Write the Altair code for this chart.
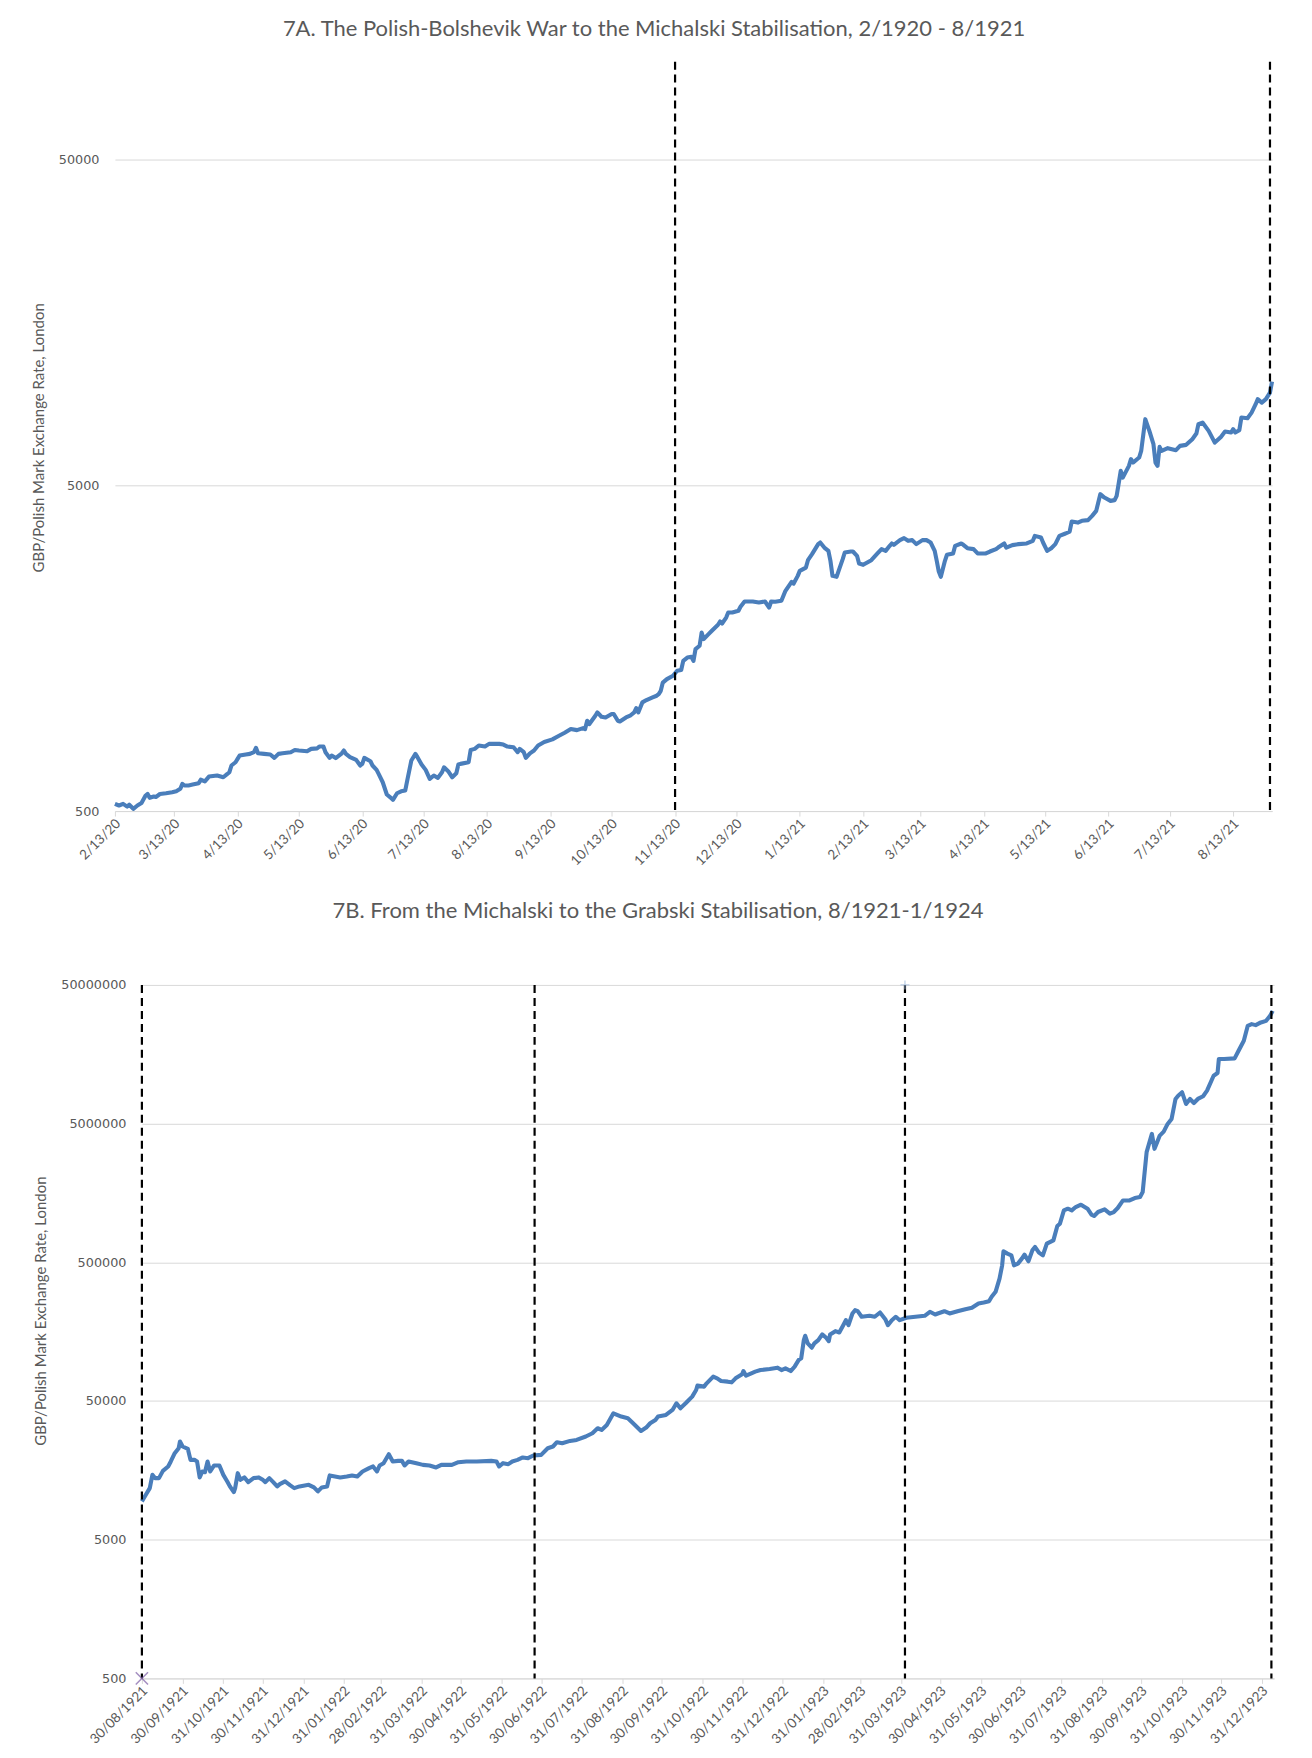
import altair as alt
import pandas as pd

# ---------------- 7A : 2/1920 - 8/1921 ----------------
top_dates = [
    "1920-02-13", "1920-02-15", "1920-02-17", "1920-02-19", "1920-02-20", "1920-02-22", "1920-02-24",
    "1920-02-26", "1920-02-28", "1920-02-29", "1920-03-01", "1920-03-03", "1920-03-04", "1920-03-06",
    "1920-03-09", "1920-03-12", "1920-03-14", "1920-03-16", "1920-03-17", "1920-03-18", "1920-03-20",
    "1920-03-22", "1920-03-25", "1920-03-26", "1920-03-28", "1920-03-30", "1920-04-03", "1920-04-06",
    "1920-04-08", "1920-04-09", "1920-04-10", "1920-04-12", "1920-04-13", "1920-04-14", "1920-04-17",
    "1920-04-19", "1920-04-21", "1920-04-22", "1920-04-23", "1920-04-26", "1920-04-29", "1920-05-01",
    "1920-05-03", "1920-05-05", "1920-05-09", "1920-05-11", "1920-05-13", "1920-05-17", "1920-05-19",
    "1920-05-22", "1920-05-23", "1920-05-25", "1920-05-26", "1920-05-28", "1920-05-29", "1920-05-31",
    "1920-06-03", "1920-06-04", "1920-06-05", "1920-06-07", "1920-06-10", "1920-06-12", "1920-06-13",
    "1920-06-14", "1920-06-17", "1920-06-18", "1920-06-20", "1920-06-21", "1920-06-23", "1920-06-25",
    "1920-06-27", "1920-06-28", "1920-06-30", "1920-07-02", "1920-07-04", "1920-07-05", "1920-07-07",
    "1920-07-09", "1920-07-10", "1920-07-12", "1920-07-14", "1920-07-16", "1920-07-18", "1920-07-20",
    "1920-07-22", "1920-07-23", "1920-07-25", "1920-07-27", "1920-07-29", "1920-07-30", "1920-07-31",
    "1920-08-04", "1920-08-05", "1920-08-07", "1920-08-09", "1920-08-12", "1920-08-14", "1920-08-19",
    "1920-08-21", "1920-08-23", "1920-08-26", "1920-08-28", "1920-08-29", "1920-08-31", "1920-09-01",
    "1920-09-03", "1920-09-05", "1920-09-07", "1920-09-10", "1920-09-14", "1920-09-17", "1920-09-20",
    "1920-09-23", "1920-09-26", "1920-09-29", "1920-09-30", "1920-10-01", "1920-10-02", "1920-10-05",
    "1920-10-06", "1920-10-08", "1920-10-10", "1920-10-13", "1920-10-14", "1920-10-16", "1920-10-17",
    "1920-10-20", "1920-10-22", "1920-10-24", "1920-10-25", "1920-10-26", "1920-10-28", "1920-10-30",
    "1920-11-02", "1920-11-04", "1920-11-05", "1920-11-06", "1920-11-07", "1920-11-09", "1920-11-12",
    "1920-11-14", "1920-11-16", "1920-11-17", "1920-11-19", "1920-11-21", "1920-11-22", "1920-11-23",
    "1920-11-25", "1920-11-26", "1920-11-27", "1920-11-29", "1920-12-01", "1920-12-04", "1920-12-05",
    "1920-12-06", "1920-12-08", "1920-12-09", "1920-12-11", "1920-12-14", "1920-12-15", "1920-12-17",
    "1920-12-21", "1920-12-24", "1920-12-27", "1920-12-29", "1920-12-30", "1921-01-01", "1921-01-04",
    "1921-01-06", "1921-01-09", "1921-01-10", "1921-01-12", "1921-01-13", "1921-01-16", "1921-01-17",
    "1921-01-19", "1921-01-22", "1921-01-23", "1921-01-25", "1921-01-27", "1921-01-28", "1921-01-29",
    "1921-01-31", "1921-02-01", "1921-02-03", "1921-02-04", "1921-02-07", "1921-02-08", "1921-02-10",
    "1921-02-11", "1921-02-13", "1921-02-15", "1921-02-17", "1921-02-20", "1921-02-22", "1921-02-24",
    "1921-02-26", "1921-02-27", "1921-02-28", "1921-03-03", "1921-03-05", "1921-03-07", "1921-03-09",
    "1921-03-11", "1921-03-14", "1921-03-16", "1921-03-18", "1921-03-20", "1921-03-21", "1921-03-22",
    "1921-03-23", "1921-03-25", "1921-03-26", "1921-03-29", "1921-03-30", "1921-04-02", "1921-04-03",
    "1921-04-05", "1921-04-08", "1921-04-10", "1921-04-14", "1921-04-16", "1921-04-19", "1921-04-20",
    "1921-04-23", "1921-04-24", "1921-04-27", "1921-04-30", "1921-05-04", "1921-05-07", "1921-05-08",
    "1921-05-11", "1921-05-12", "1921-05-14", "1921-05-16", "1921-05-18", "1921-05-20", "1921-05-23",
    "1921-05-25", "1921-05-26", "1921-05-29", "1921-05-31", "1921-06-03", "1921-06-05", "1921-06-07",
    "1921-06-09", "1921-06-11", "1921-06-14", "1921-06-16", "1921-06-17", "1921-06-19", "1921-06-20",
    "1921-06-23", "1921-06-24", "1921-06-25", "1921-06-28", "1921-06-29", "1921-07-01", "1921-07-03",
    "1921-07-05", "1921-07-06", "1921-07-07", "1921-07-08", "1921-07-09", "1921-07-12", "1921-07-16",
    "1921-07-18", "1921-07-21", "1921-07-24", "1921-07-26", "1921-07-27", "1921-07-29", "1921-08-01",
    "1921-08-04", "1921-08-07", "1921-08-09", "1921-08-12", "1921-08-13", "1921-08-14", "1921-08-16",
    "1921-08-17", "1921-08-20", "1921-08-22", "1921-08-24", "1921-08-25", "1921-08-27", "1921-08-29",
    "1921-08-31", "1921-09-01",
]
top_values = [
    526, 520, 526, 516, 523, 508, 520,
    529, 558, 564, 549, 554, 552, 564,
    567, 571, 575, 585, 606, 599, 599,
    603, 609, 624, 617, 638, 643, 635,
    650, 658, 690, 706, 723, 740, 746,
    749, 758, 782, 752, 749, 746, 728,
    749, 752, 758, 770, 767, 763, 776,
    779, 789, 789, 758, 728, 740, 727,
    752, 767, 749, 732, 718, 690, 698,
    728, 711, 690, 669, 650, 613, 562,
    549, 541, 567, 575, 578, 621, 715,
    749, 732, 695, 669, 628, 643, 632,
    658, 681, 663, 635, 653, 695, 698,
    706, 770, 776, 795, 789, 804, 804,
    800, 789, 785, 758, 776, 758, 728,
    752, 767, 795, 815, 830, 850, 870,
    893, 886, 899, 893, 947, 924, 981,
    1004, 974, 969, 993, 993, 947, 942,
    969, 981, 1004, 1035, 1004, 1078, 1096,
    1117, 1130, 1143, 1170, 1240, 1271, 1301,
    1348, 1355, 1446, 1480, 1488, 1446, 1571,
    1609, 1767, 1686, 1738, 1789, 1866, 1910,
    1883, 1964, 2035, 2035, 2060, 2119, 2200,
    2200, 2184, 2200, 2108, 2200, 2195, 2210,
    2372, 2528, 2497, 2637, 2732, 2796, 2946,
    3074, 3300, 3338, 3221, 3147, 2932, 2637,
    2619, 2732, 2967, 3111, 3132, 3132, 3038,
    2877, 2851, 2898, 2946, 3090, 3186, 3147,
    3261, 3315, 3284, 3395, 3443, 3378, 3395,
    3300, 3395, 3395, 3338, 3147, 2932, 2718,
    2619, 2932, 3061, 3090, 3261, 3315, 3284,
    3207, 3186, 3090, 3090, 3132, 3186, 3221,
    3315, 3221, 3277, 3300, 3315, 3378, 3499,
    3458, 3338, 3147, 3207, 3300, 3499, 3557,
    3607, 3871, 3843, 3891, 3911, 4030, 4175,
    4698, 4587, 4481, 4504, 4642, 5540, 5283,
    5739, 6018, 5875, 6087, 6380, 7983, 7350,
    6691, 5875, 5739, 6564, 6380, 6504, 6412,
    6611, 6658, 6931, 7211, 7706, 7795, 7350,
    6765, 7044, 7313, 7263, 7439, 7263, 7386,
    8074, 8040, 8364, 8877, 9197, 8979, 9197,
    9636, 10412,
]
top_events = ["1920-11-13", "1921-08-31"]
top_ticks = [
    "1920-02-13", "1920-03-13", "1920-04-13", "1920-05-13", "1920-06-13", "1920-07-13", "1920-08-13",
    "1920-09-13", "1920-10-13", "1920-11-13", "1920-12-13", "1921-01-13", "1921-02-13", "1921-03-13",
    "1921-04-13", "1921-05-13", "1921-06-13", "1921-07-13", "1921-08-13",
]
top_y_ticks = [500, 5000, 50000]
top_x_domain = ["1920-02-13", "1921-09-01"]
top_y_domain = [500, 100000]

# ---------------- 7B : 8/1921 - 1/1924 ----------------
bottom_dates = [
    "1921-08-30", "1921-09-02", "1921-09-05", "1921-09-07", "1921-09-09", "1921-09-12", "1921-09-15",
    "1921-09-19", "1921-09-21", "1921-09-24", "1921-09-27", "1921-09-28", "1921-09-30", "1921-10-04",
    "1921-10-06", "1921-10-09", "1921-10-11", "1921-10-13", "1921-10-15", "1921-10-17", "1921-10-19",
    "1921-10-21", "1921-10-24", "1921-10-28", "1921-10-31", "1921-11-03", "1921-11-05", "1921-11-08",
    "1921-11-09", "1921-11-11", "1921-11-13", "1921-11-16", "1921-11-19", "1921-11-23", "1921-11-27",
    "1921-11-30", "1921-12-02", "1921-12-05", "1921-12-08", "1921-12-11", "1921-12-13", "1921-12-17",
    "1921-12-21", "1921-12-24", "1921-12-28", "1922-01-01", "1922-01-04", "1922-01-08", "1922-01-11",
    "1922-01-14", "1922-01-18", "1922-01-20", "1922-01-24", "1922-01-28", "1922-02-02", "1922-02-06",
    "1922-02-10", "1922-02-14", "1922-02-19", "1922-02-22", "1922-02-25", "1922-02-27", "1922-03-02",
    "1922-03-06", "1922-03-09", "1922-03-13", "1922-03-16", "1922-03-18", "1922-03-21", "1922-03-27",
    "1922-04-01", "1922-04-06", "1922-04-11", "1922-04-15", "1922-04-23", "1922-04-28", "1922-05-04",
    "1922-05-12", "1922-05-23", "1922-05-27", "1922-05-29", "1922-06-01", "1922-06-05", "1922-06-08",
    "1922-06-12", "1922-06-16", "1922-06-20", "1922-06-24", "1922-06-30", "1922-07-05", "1922-07-09",
    "1922-07-12", "1922-07-16", "1922-07-22", "1922-07-27", "1922-08-03", "1922-08-08", "1922-08-12",
    "1922-08-15", "1922-08-19", "1922-08-24", "1922-08-30", "1922-09-04", "1922-09-08", "1922-09-14",
    "1922-09-18", "1922-09-21", "1922-09-25", "1922-09-27", "1922-10-03", "1922-10-08", "1922-10-11",
    "1922-10-14", "1922-10-18", "1922-10-23", "1922-10-26", "1922-10-27", "1922-11-01", "1922-11-03",
    "1922-11-08", "1922-11-11", "1922-11-14", "1922-11-19", "1922-11-22", "1922-11-25", "1922-11-30",
    "1922-12-01", "1922-12-03", "1922-12-07", "1922-12-10", "1922-12-14", "1922-12-21", "1922-12-27",
    "1922-12-30", "1923-01-02", "1923-01-06", "1923-01-09", "1923-01-12", "1923-01-14", "1923-01-16",
    "1923-01-17", "1923-01-19", "1923-01-22", "1923-01-24", "1923-01-27", "1923-01-30", "1923-02-02",
    "1923-02-04", "1923-02-05", "1923-02-09", "1923-02-12", "1923-02-15", "1923-02-17", "1923-02-19",
    "1923-02-22", "1923-02-24", "1923-02-26", "1923-03-01", "1923-03-07", "1923-03-11", "1923-03-15",
    "1923-03-19", "1923-03-21", "1923-03-24", "1923-03-27", "1923-03-30", "1923-04-04", "1923-04-11",
    "1923-04-18", "1923-04-22", "1923-04-26", "1923-04-28", "1923-05-03", "1923-05-07", "1923-05-13",
    "1923-05-19", "1923-05-24", "1923-05-29", "1923-06-02", "1923-06-06", "1923-06-08", "1923-06-11",
    "1923-06-14", "1923-06-16", "1923-06-17", "1923-06-20", "1923-06-23", "1923-06-25", "1923-06-28",
    "1923-07-01", "1923-07-03", "1923-07-06", "1923-07-09", "1923-07-11", "1923-07-14", "1923-07-17",
    "1923-07-20", "1923-07-25", "1923-07-28", "1923-07-30", "1923-08-02", "1923-08-05", "1923-08-08",
    "1923-08-11", "1923-08-15", "1923-08-20", "1923-08-23", "1923-08-25", "1923-08-28", "1923-09-02",
    "1923-09-06", "1923-09-09", "1923-09-12", "1923-09-16", "1923-09-21", "1923-09-25", "1923-09-29",
    "1923-10-01", "1923-10-04", "1923-10-08", "1923-10-10", "1923-10-12", "1923-10-14", "1923-10-17",
    "1923-10-20", "1923-10-23", "1923-10-26", "1923-10-28", "1923-10-31", "1923-11-03", "1923-11-06",
    "1923-11-09", "1923-11-12", "1923-11-16", "1923-11-19", "1923-11-24", "1923-11-27", "1923-11-28",
    "1923-12-02", "1923-12-10", "1923-12-13", "1923-12-17", "1923-12-20", "1923-12-23", "1923-12-26",
    "1923-12-30", "1924-01-03", "1924-01-06", "1924-01-08",
]
bottom_values = [
    9445, 10537, 11776, 14675, 13894, 13894, 15677,
    16865, 18322, 21022, 22835, 25519, 23487, 22570,
    18815, 18815, 18322, 14061, 15522, 15343, 18322,
    15522, 17144, 17144, 14675, 13153, 12111, 11015,
    11776, 15093, 13508, 14061, 13004, 13894, 14061,
    13508, 13004, 13894, 13004, 12111, 12578, 13153,
    12311, 11776, 12111, 12311, 12434, 11910, 11143,
    11910, 12111, 14530, 14291, 14061, 14291, 14530,
    14291, 15522, 16400, 16865, 15522, 17144, 17810,
    20678, 18322, 18504, 18504, 17144, 18322, 17810,
    17318, 17144, 16590, 17318, 17318, 18109, 18322,
    18322, 18504, 18322, 16865, 17810, 17520, 18322,
    18815, 19574, 19350, 20235, 20440, 22835, 23487,
    25224, 24809, 25777, 26208, 27725, 29275, 31805,
    30920, 33595, 40787, 38614, 37538, 34553, 30409,
    32176, 34553, 36505, 38614, 39653, 43073, 48133,
    44307, 48133, 53781, 60001, 64524, 63464, 67030,
    74890, 72818, 69631, 68944, 68139, 72818, 77806,
    82215, 76142, 79145, 81398, 83560, 84950, 86954,
    83560, 85953, 82215, 88402, 98614, 101426, 137365,
    147721, 130044, 121100, 130044, 137365, 150948, 142910,
    135105, 150948, 159450, 156035, 176100, 191265, 176100,
    213740, 225775, 222065, 202385, 205770, 202385, 217320,
    194465, 176100, 191265, 202385, 191265, 199050, 202385,
    205770, 219880, 210240, 213740, 222065, 213740, 222065,
    229545, 234890, 252230, 256450, 262000, 281900, 306185,
    381655, 475735, 599900, 577500, 561500, 475735, 489300,
    531600, 568000, 508350, 609950, 645350, 587200, 561500,
    681550, 719900, 913750, 949100, 1183200, 1216900, 1183200,
    1251800, 1300300, 1216900, 1101650, 1078100, 1152050, 1203000,
    1120500, 1152050, 1231000, 1396250, 1396250, 1453000, 1477350,
    1604500, 3113500, 4216500, 3288500, 3674000, 4099500, 4379000,
    4974500, 5405000, 7530000, 7950000, 8410000, 6930000, 7530000,
    7045000, 7530000, 7872500, 8640000, 11070000, 11575000, 14605000,
    14605000, 14775000, 16755000, 19775000, 25350000, 26080000, 25655000,
    26825000, 27540000, 29920000, 32500000,
]
bottom_events = ["1921-08-30", "1922-06-25", "1923-04-03", "1924-01-07"]
bottom_ticks = [
    "1921-08-30", "1921-09-30", "1921-10-31", "1921-11-30", "1921-12-31", "1922-01-31", "1922-02-28",
    "1922-03-31", "1922-04-30", "1922-05-31", "1922-06-30", "1922-07-31", "1922-08-31", "1922-09-30",
    "1922-10-31", "1922-11-30", "1922-12-31", "1923-01-31", "1923-02-28", "1923-03-31", "1923-04-30",
    "1923-05-31", "1923-06-30", "1923-07-31", "1923-08-31", "1923-09-30", "1923-10-31", "1923-11-30",
    "1923-12-31",
]
bottom_y_ticks = [500, 5000, 50000, 500000, 5000000, 50000000]
bottom_x_domain = ["1921-08-30", "1924-01-09"]
bottom_y_domain = [500, 50000000]
cross_dates = ["1921-08-30"]
cross_values = [500]
plus_dates = ["1923-04-03"]
plus_values = [50000000]

TITLE_A = "7A. The Polish-Bolshevik War to the Michalski Stabilisation, 2/1920 - 8/1921"
TITLE_B = "7B. From the Michalski to the Grabski Stabilisation, 8/1921-1/1924"
Y_TITLE = "GBP/Polish Mark Exchange Rate, London"

LINE = "#4A7EBB"
GRID = "#D9D9D9"
TXT = "#595959"


def dt(s):
    y, m, d = (int(p) for p in s.split("-"))
    return alt.DateTime(year=y, month=m, date=d, utc=True)


def panel(dates, values, events, ticks, fmt, xdom, ydom, yticks, width, height,
          title, title_offset, title_dx, ytx, yty, shift=0, extra=None):
    # shift: how far (px) the plotting rectangle starts to the left of the panel origin
    df = pd.DataFrame({"date": dates, "rate": values})
    ev = pd.DataFrame({"date": events})
    xscale = alt.Scale(type="utc", domain=[dt(xdom[0]), dt(xdom[1])], nice=False)
    if shift:
        xscale = alt.Scale(type="utc", domain=[dt(xdom[0]), dt(xdom[1])], nice=False,
                           range=[-shift, width])
    x = alt.X(
        "date:T",
        scale=xscale,
        axis=alt.Axis(
            values=[dt(t) for t in ticks], format=fmt, labelAngle=-45, labelAlign="right",
            labelBaseline="middle", labelPadding=5, labelOffset=3, grid=False,
            domainColor=GRID, domainWidth=1, tickColor=GRID, tickSize=5, tickWidth=1,
            labelColor=TXT, labelFont="Lato", labelFontSize=13.5, labelOverlap=False,
            labelFlush=False, title=None,
        ),
    )
    y = alt.Y(
        "rate:Q",
        scale=alt.Scale(type="log", domain=ydom, nice=False),
        axis=alt.Axis(
            values=yticks, format="d", grid=True, gridColor=GRID, gridWidth=1, domain=False,
            ticks=False, labelPadding=16, labelColor=TXT, labelFont="DejaVu Sans",
            labelFontSize=12.8, title=Y_TITLE, titleFont="Lato", titleFontSize=15,
            titleFontWeight="normal", titleColor=TXT, titleX=ytx, titleY=yty,
            titleAngle=270, titleAlign="center", titleBaseline="middle", offset=shift,
        ),
    )
    line = alt.Chart(df).mark_line(color=LINE, strokeWidth=4.1, clip=False,
                                   strokeJoin="round").encode(x=x, y=y)
    rules = alt.Chart(ev).mark_rule(color="black", strokeWidth=2.2, strokeDash=[8, 5]).encode(
        x="date:T"
    )
    layers = [line, rules]
    if extra is not None:
        layers += extra
    return alt.layer(*layers).properties(
        width=width,
        height=height,
        title=alt.TitleParams(
            text=title, font="Lato", fontSize=22, fontWeight="normal", color=TXT,
            anchor="middle", offset=title_offset, dx=title_dx,
        ),
    )


cross = alt.Chart(pd.DataFrame({"date": cross_dates, "rate": cross_values})).mark_point(
    shape="M-1,-1L1,1M-1,1L1,-1", filled=False, color="#7F60A8", strokeWidth=1.5, size=150
).encode(x="date:T", y="rate:Q")
plus = alt.Chart(pd.DataFrame({"date": plus_dates, "rate": plus_values})).mark_point(
    shape="M0,-1L0,1M-1,0L1,0", filled=False, color="#9DB9DC", strokeWidth=1.2, size=80
).encode(x="date:T", y="rate:Q")

top = panel(top_dates, top_values, top_events, top_ticks, "%-m/%-d/%y", top_x_domain,
            top_y_domain, top_y_ticks, 1131, 750, TITLE_A, 20, -53, -76, 376, shift=27)
bottom = panel(bottom_dates, bottom_values, bottom_events, bottom_ticks, "%d/%m/%Y",
               bottom_x_domain, bottom_y_domain, bottom_y_ticks, 1133, 694, TITLE_B, 55, -50,
               -101, 326, extra=[cross, plus])

chart = (
    alt.concat(top, bottom, columns=1, spacing=32)
    .properties(padding={"left": 24, "top": 8, "right": 5, "bottom": 5}, background="white")
    .configure_view(stroke=None, strokeWidth=0)
)

chart.save("out.html", embed_options={"renderer": "svg", "actions": False})
